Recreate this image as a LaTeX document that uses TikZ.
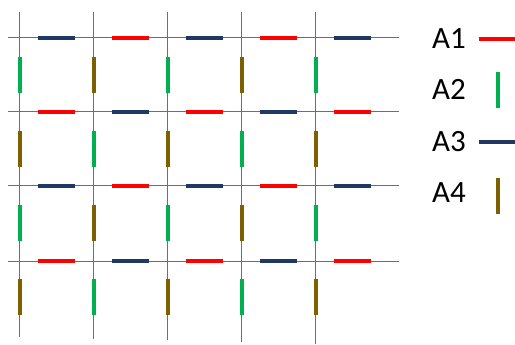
\documentclass[tikz,border=0pt]{standalone}
\usepackage{fontspec}
\setmainfont{Carlito}
\definecolor{gridblue}{HTML}{4472C4}
\definecolor{cA1}{HTML}{FF0000}
\definecolor{cA2}{HTML}{00B050}
\definecolor{cA3}{HTML}{203864}
\definecolor{cA4}{HTML}{7F6000}
\tikzset{
  gridline/.style={draw=gridblue, line width=1pt},
  seg/.style={line width=4pt},
  legseg/.style={line width=3.5pt},
  legtext/.style={anchor=base west, inner sep=0pt, font=\fontsize{31}{31}\selectfont}
}
\begin{document}
\begin{tikzpicture}[x=1pt,y=-1pt]
\useasboundingbox (0,0) rectangle (515,345);
% grid lines
\foreach \r/\y in {1/38,2/112,3/186,4/261}{
  \coordinate (hl\r) at (8,\y);
  \coordinate (hr\r) at (399,\y);
  \draw[gridline] (hl\r) -- (hr\r);
}
\foreach \c in {0,...,4}{
  \pgfmathsetmacro{\xx}{19.5+74*\c}
  \pgfmathsetmacro{\yb}{337+1.7*\c}
  \coordinate (vt\c) at (\xx,12);
  \coordinate (vb\c) at (\xx,\yb);
  \draw[gridline] (vt\c) -- (vb\c);
}
% horizontal segments
\foreach \r/\y/\ca/\cb in {1/38/cA3/cA1,2/112/cA1/cA3,3/186/cA3/cA1,4/261/cA1/cA3}{
  \foreach \c in {0,...,4}{
    \pgfmathsetmacro{\xm}{56.5+74*\c}
    \pgfmathparse{int(mod(\c,2))}
    \ifnum\pgfmathresult=0 \def\col{\ca}\else\def\col{\cb}\fi
    \coordinate (hs\r\c a) at (\xm-18.5,\y);
    \coordinate (hs\r\c b) at (\xm+18.5,\y);
    \draw[seg, draw=\col] (hs\r\c a) -- (hs\r\c b);
  }
}
% vertical segments
\foreach \r/\y/\ca/\cb in {1/75/cA2/cA4,2/149/cA4/cA2,3/223/cA2/cA4,4/297/cA4/cA2}{
  \foreach \c in {0,...,4}{
    \pgfmathsetmacro{\xx}{19.5+74*\c}
    \pgfmathparse{int(mod(\c,2))}
    \ifnum\pgfmathresult=0 \def\col{\ca}\else\def\col{\cb}\fi
    \coordinate (vs\r\c a) at (\xx,\y-18);
    \coordinate (vs\r\c b) at (\xx,\y+18);
    \draw[seg, draw=\col] (vs\r\c a) -- (vs\r\c b);
  }
}
% legend
\node[legtext] (t1) at (432,49) {A1};
\node[legtext] (t2) at (432,100) {A2};
\node[legtext] (t3) at (432,152) {A3};
\node[legtext] (t4) at (432,203) {A4};
\coordinate (l1a) at (479,39); \coordinate (l1b) at (515,39);
\draw[legseg, draw=cA1] (l1a) -- (l1b);
\coordinate (l2a) at (498,72); \coordinate (l2b) at (498,108);
\draw[legseg, draw=cA2] (l2a) -- (l2b);
\coordinate (l3a) at (479,142); \coordinate (l3b) at (515,142);
\draw[legseg, draw=cA3] (l3a) -- (l3b);
\coordinate (l4a) at (498,178); \coordinate (l4b) at (498,214);
\draw[legseg, draw=cA4] (l4a) -- (l4b);
\end{tikzpicture}
\end{document}
